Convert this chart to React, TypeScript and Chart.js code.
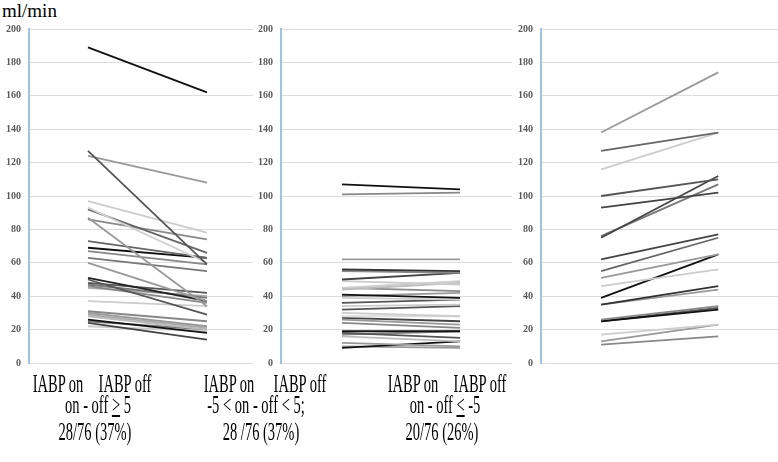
import React, { useEffect, useRef } from 'react';
import { Chart, registerables } from 'chart.js';

Chart.register(...registerables);

const categories = ['IABP on', 'IABP off'];
const yTickStep = 20;
const yMin = 0;
const yMax = 200;
const unitLabel = 'ml/min';

// Panel 1: on - off >= 5
const p1On = [189, 127, 124, 97, 93, 92, 87, 86, 73, 69, 67, 63, 60, 51, 50, 48, 47, 46, 45, 37, 31, 30, 29, 28, 26, 24, 22, 25];
const p1Off = [162, 59, 108, 78, 60, 66, 34, 74, 63, 63, 59, 55, 37, 37, 29, 42, 39, 36, 40, 34, 25, 22, 21, 20, 18, 14, 19, 20];
const p1Colors = ['#111', '#555', '#999', '#ccc', '#d0d0d0', '#666', '#999', '#888', '#666', '#111', '#888', '#777', '#999', '#222', '#555', '#555', '#777', '#888', '#aaa', '#ccc', '#888', '#999', '#aaa', '#bbb', '#111', '#444', '#ccc', '#777'];

// Panel 2: -5 < on - off < 5
const p2On = [107, 101, 62, 56, 55, 50, 49, 45, 44, 45, 41, 40, 39, 36, 34, 32, 30, 28, 27, 26, 24, 19, 18, 17, 16, 12, 9, 10];
const p2Off = [104, 102, 62, 55, 54, 54, 47, 49, 48, 43, 39, 42, 38, 38, 35, 34, 28, 28, 25, 23, 21, 19, 15, 19, 13, 10, 13, 9];
const p2Colors = ['#111', '#888', '#999', '#333', '#888', '#444', '#ccc', '#ccc', '#bbb', '#888', '#111', '#999', '#ccc', '#555', '#ccc', '#555', '#ccc', '#ddd', '#444', '#999', '#888', '#111', '#555', '#888', '#bbb', '#999', '#111', '#999'];

// Panel 3: on - off <= -5
const p3On = [138, 127, 116, 100, 93, 75, 76, 62, 55, 51, 46, 39, 35, 35, 26, 25, 25, 17, 13, 11];
const p3Off = [174, 138, 138, 110, 102, 112, 107, 77, 75, 65, 56, 65, 46, 44, 34, 32, 33, 23, 23, 16];
const p3Colors = ['#999', '#666', '#ccc', '#555', '#444', '#444', '#777', '#444', '#666', '#999', '#ccc', '#111', '#333', '#999', '#888', '#111', '#555', '#ccc', '#999', '#888'];

type PanelProps = {
  on: number[];
  off: number[];
  colors: string[];
  left: number;
  width: number;
  axisWidth: number;
  xMin: number;
  xMax: number;
};

const CANVAS_H = 377;

function Panel({ on, off, colors, left, width, axisWidth, xMin, xMax }: PanelProps) {
  const ref = useRef<HTMLCanvasElement>(null);
  useEffect(() => {
    if (!ref.current) return;
    const ixOn = categories.indexOf('IABP on');
    const ixOff = categories.indexOf('IABP off');
    const chart = new Chart(ref.current, {
      type: 'line',
      data: {
        datasets: on.map((v, i) => ({
          data: [
            { x: ixOn, y: v },
            { x: ixOff, y: off[i] },
          ],
          borderColor: colors[i],
          borderWidth: 1.8,
          pointRadius: 0,
          fill: false,
          tension: 0,
        })),
      },
      options: {
        animation: false,
        responsive: false,
        layout: { padding: { top: 29, bottom: 4, left: 0, right: 2 } },
        plugins: { legend: { display: false }, tooltip: { enabled: false } },
        scales: {
          x: { type: 'linear', display: false, min: xMin, max: xMax },
          y: {
            min: yMin,
            max: yMax,
            ticks: {
              stepSize: yTickStep,
              color: '#595959',
              padding: 8,
              font: { family: 'Liberation Serif', size: 10, weight: 'bold', lineHeight: 1.2 },
            },
            grid: { color: '#dcdcdc', drawTicks: false, lineWidth: 1 },
            border: { color: '#9dc3e6', width: 2 },
            afterFit: (s: any) => {
              s.width = axisWidth;
            },
          },
        },
      },
    });
    return () => chart.destroy();
  }, []);
  return (
    <canvas
      ref={ref}
      width={width}
      height={CANVAS_H}
      style={{ position: 'absolute', left, top: 0, width, height: CANVAS_H, display: 'block' }}
    />
  );
}

const textStyle: React.CSSProperties = {
  position: 'absolute',
  fontFamily: '"Liberation Serif", serif',
  fontSize: 25,
  lineHeight: '25px',
  whiteSpace: 'nowrap',
  color: '#000',
  transform: 'translateX(-50%) scaleX(0.58)',
};

function T({ x, y, children }: { x: number; y: number; children: React.ReactNode }) {
  return <div style={{ ...textStyle, left: x, top: y }}>{children}</div>;
}

export default function App() {
  return (
    <div style={{ position: 'absolute', left: 0, top: 0, width: 778, height: 462, background: '#fff', overflow: 'hidden' }}>
      <div
        style={{
          position: 'absolute',
          left: 2,
          top: 1,
          fontFamily: '"Liberation Serif", serif',
          fontSize: 19,
          lineHeight: '19px',
          color: '#000',
        }}
      >
        {unitLabel}
      </div>
      <Panel on={p1On} off={p1Off} colors={p1Colors} left={0} width={255} axisWidth={29} xMin={-0.496} xMax={1.387} />
      <Panel on={p2On} off={p2Off} colors={p2Colors} left={255} width={259} axisWidth={26} xMin={-0.517} xMax={1.44} />
      <Panel on={p3On} off={p3Off} colors={p3Colors} left={510} width={270} axisWidth={31} xMin={-0.513} xMax={1.51} />

      <T x={58} y={371}>{categories[0]}</T>
      <T x={125} y={371}>{categories[1]}</T>
      <T x={98} y={392}>on - off <span style={{ textDecoration: 'underline' }}>&gt;</span> 5</T>
      <T x={95} y={419}>28/76 (37%)</T>

      <T x={229} y={371}>{categories[0]}</T>
      <T x={300} y={371}>{categories[1]}</T>
      <T x={256} y={392}>-5 &lt; on - off &lt;  5;</T>
      <T x={261} y={419}>28 /76 (37%)</T>

      <T x={413} y={371}>{categories[0]}</T>
      <T x={480} y={371}>{categories[1]}</T>
      <T x={445} y={392}>on - off <span style={{ textDecoration: 'underline' }}>&lt;</span> -5</T>
      <T x={442} y={419}>20/76 (26%)</T>
    </div>
  );
}
